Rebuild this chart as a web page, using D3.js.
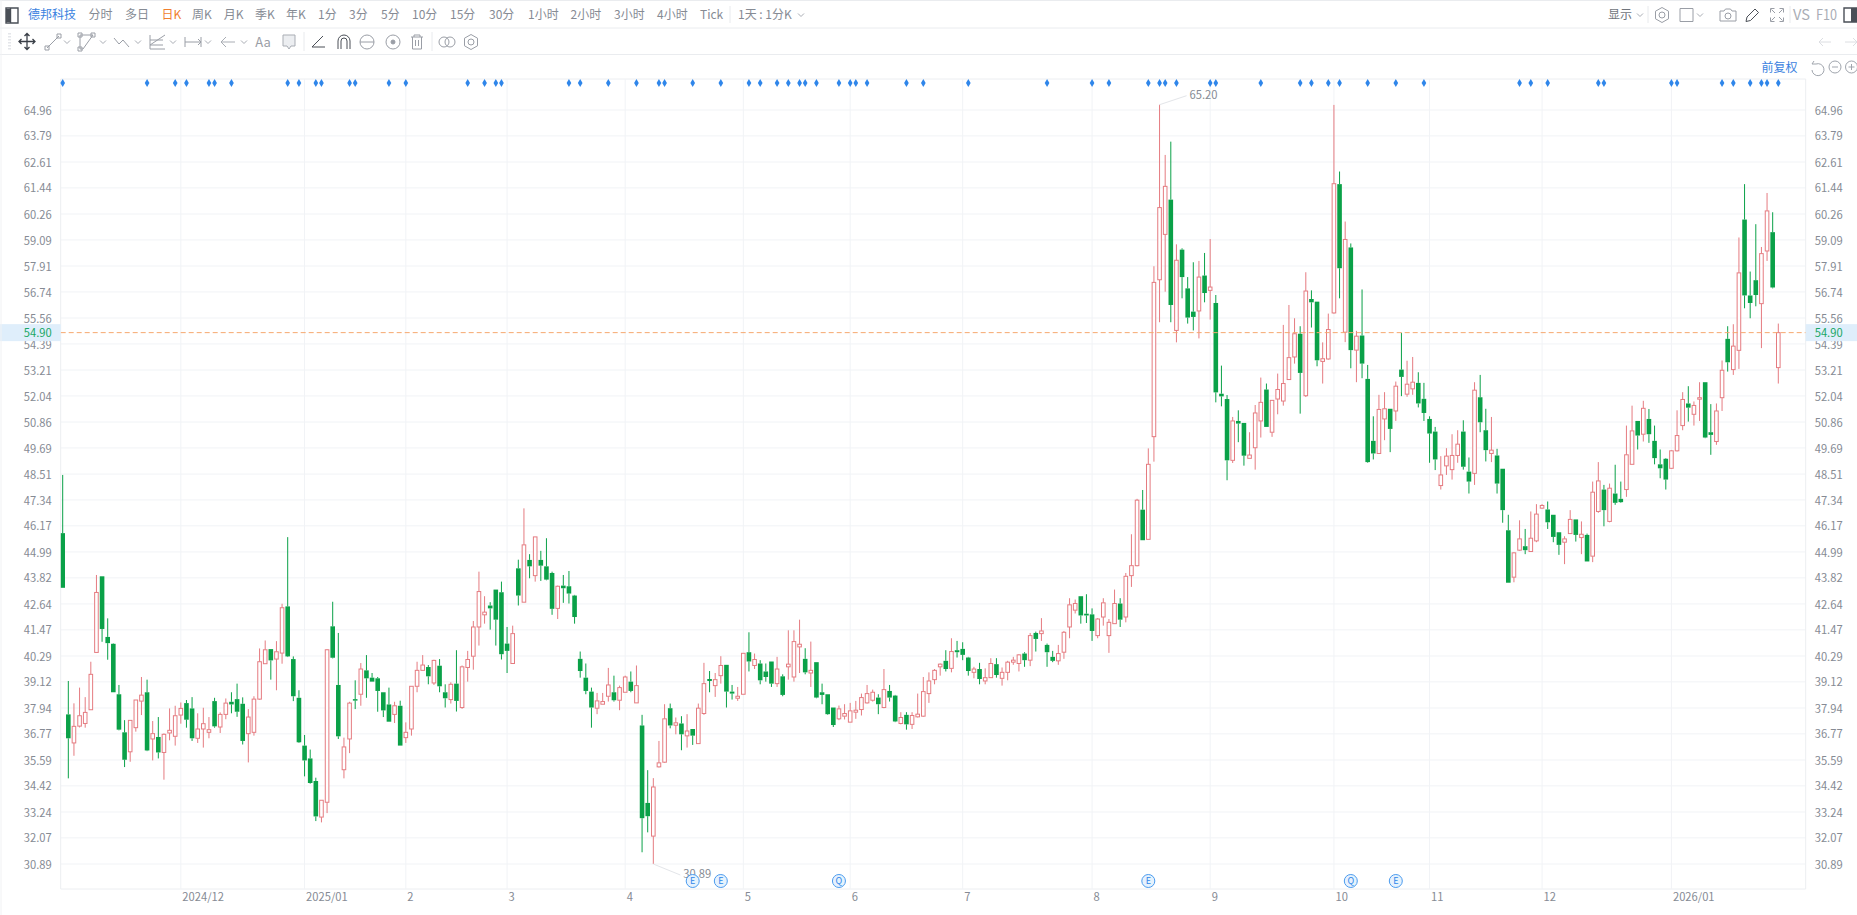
<!DOCTYPE html>
<html lang="zh">
<head>
<meta charset="utf-8">
<title>德邦科技 日K</title>
<script src="https://cdn.jsdelivr.net/npm/d3@7/dist/d3.min.js"></script>
<style>
html,body{margin:0;padding:0;background:#fff;overflow:hidden}
svg{display:block}
text{font-family:"Noto Sans CJK SC","Noto Sans",sans-serif}
</style>
</head>
<body>
<svg id="c" width="1857" height="915"></svg>
<script>
const highs=[48.47,39.16,38.15,38.86,38.43,40.03,43.95,43.89,41.99,40.86,
38.98,37.39,37.38,38.30,39.34,39.22,37.35,37.53,36.79,37.92,
38.04,38.19,38.30,38.43,37.70,37.95,37.53,38.40,37.74,38.37,
38.65,39.04,38.42,37.89,38.47,40.63,40.99,40.60,40.96,42.65,
45.66,40.27,38.74,36.72,36.06,34.79,33.77,40.60,42.74,41.33,
36.60,38.22,39.19,39.97,40.33,39.52,39.34,38.65,38.86,38.22,
38.27,37.29,38.92,40.03,40.33,39.88,40.12,40.15,39.01,39.10,
40.55,39.86,40.52,41.87,44.10,42.99,42.72,43.29,43.65,41.60,
41.66,44.64,46.96,44.89,45.67,45.04,45.61,44.10,43.47,43.95,
44.13,43.05,40.49,39.95,38.86,38.62,38.62,39.75,39.40,38.95,
39.40,39.59,39.86,37.63,35.13,34.77,36.45,38.11,38.14,37.51,
37.57,37.66,36.99,38.14,39.98,39.61,39.52,40.28,39.89,38.98,
38.89,40.41,41.36,40.40,40.10,39.95,40.04,40.25,39.46,41.45,
41.45,41.93,40.64,40.94,40.01,39.04,38.56,37.96,38.05,38.11,
38.17,38.26,38.59,38.98,38.77,38.56,39.70,38.98,38.53,37.75,
37.75,37.75,38.59,39.34,39.55,39.70,39.95,40.55,41.09,40.97,
40.91,40.25,39.80,39.98,39.73,40.19,40.19,39.77,40.07,40.25,
40.37,40.46,41.33,41.39,42.00,40.85,40.52,40.79,41.42,42.90,
42.84,42.99,43.08,42.44,42.00,42.90,41.96,43.29,42.90,44.04,
45.79,47.39,47.79,49.67,57.90,65.20,62.93,63.53,58.89,58.71,
57.41,58.08,58.14,58.50,59.13,56.60,53.41,52.08,51.09,51.39,
50.82,50.40,51.63,52.87,52.60,51.84,53.05,55.25,56.15,55.55,
55.19,57.63,56.81,56.30,54.46,55.76,65.19,62.18,59.92,58.93,
54.98,56.85,53.44,51.12,52.09,52.21,51.46,52.69,54.89,53.63,
53.80,53.11,52.63,51.12,50.64,49.32,49.68,50.31,50.49,50.94,
49.26,52.66,52.99,51.46,51.09,49.65,48.75,46.67,44.98,46.42,
46.03,46.82,47.15,47.15,47.27,46.67,45.88,45.70,46.88,46.46,
46.37,45.82,48.17,49.05,48.02,48.08,48.93,48.17,50.70,51.60,
50.91,51.82,51.45,50.70,49.62,49.23,49.59,51.39,52.21,52.48,
51.79,52.66,52.66,51.67,51.70,53.64,55.19,55.28,59.20,61.61,
57.66,59.80,58.77,61.21,60.34,55.31];
const lows=[43.37,34.76,35.78,37.06,37.05,37.86,40.45,40.93,40.12,38.65,
36.93,35.27,35.51,36.87,37.62,35.99,35.57,35.66,34.70,36.48,
36.24,37.23,37.05,36.45,36.36,36.15,36.57,37.05,36.81,37.43,
37.70,37.54,36.29,35.48,36.69,38.31,39.94,39.22,38.74,39.94,
40.24,38.25,36.36,34.85,34.52,32.83,32.77,33.19,40.18,36.54,
34.76,35.90,37.89,38.04,38.40,39.13,37.77,37.53,37.32,37.26,
36.24,36.36,36.69,38.65,39.64,39.01,38.98,38.65,37.96,38.14,
37.78,37.90,39.13,39.67,40.76,41.75,41.48,40.76,40.13,39.52,
39.95,42.57,42.72,43.80,43.65,43.68,43.71,42.15,41.96,42.69,
42.66,41.75,39.31,38.56,37.05,37.66,38.11,38.23,38.23,37.84,
38.65,38.65,38.17,31.42,32.32,30.89,35.25,35.46,37.02,36.75,
36.03,36.15,36.27,36.33,37.63,38.65,38.44,39.04,37.96,38.32,
38.26,38.56,39.59,39.70,39.01,39.13,38.89,38.89,38.47,39.22,
39.13,39.52,39.46,38.89,38.38,38.11,37.63,37.08,37.39,37.42,
37.30,37.45,37.60,38.14,38.23,37.66,37.93,38.23,37.30,37.20,
36.96,36.99,37.51,37.54,38.17,39.01,39.40,39.59,39.55,40.22,
40.10,39.40,39.28,39.01,39.01,39.31,39.31,38.95,39.19,39.89,
39.59,39.80,39.83,40.49,40.97,39.80,40.01,39.89,40.16,41.09,
42.21,41.75,41.78,40.97,41.09,41.66,40.43,41.75,41.60,41.81,
43.41,44.34,45.52,45.56,49.07,55.37,56.75,55.37,54.46,56.45,
55.31,55.00,54.64,56.27,55.49,51.75,51.57,48.23,49.01,49.95,
48.89,49.22,48.71,50.16,50.64,50.19,51.21,51.60,52.78,53.50,
51.24,51.99,55.13,53.38,52.60,53.68,55.76,56.45,54.47,53.29,
52.66,52.84,49.02,49.17,49.44,50.04,49.50,50.91,52.03,52.00,
52.09,51.52,50.91,49.02,48.69,47.81,48.47,48.26,49.02,48.71,
47.63,48.02,50.40,49.08,49.05,47.63,46.31,43.60,43.62,45.04,
44.89,45.01,45.43,46.94,46.03,45.43,44.86,44.44,45.82,45.46,
44.89,44.56,44.53,46.76,46.15,46.33,47.12,47.21,47.48,48.95,
49.62,49.98,49.92,48.95,48.32,47.81,48.74,49.53,50.49,50.88,
50.70,50.91,50.13,49.38,49.83,51.36,53.14,52.99,53.26,56.00,
55.55,56.09,54.20,58.14,56.90,52.60];
const opens=[45.84,37.65,36.36,37.12,37.24,37.86,40.45,43.89,41.15,40.84,
38.56,36.84,35.96,37.05,38.25,38.65,36.54,36.63,35.93,36.81,
36.66,37.62,38.16,37.92,36.57,36.99,36.84,38.25,37.08,37.65,
38.22,38.34,38.13,36.78,36.84,38.34,39.94,40.60,40.15,40.42,
42.53,40.15,38.40,36.24,35.66,34.64,33.01,33.68,41.63,38.98,
35.15,36.54,38.34,38.56,39.64,39.31,39.28,38.65,38.10,37.65,
38.04,36.60,36.99,38.92,39.64,39.79,39.07,39.85,38.65,38.32,
39.04,37.96,39.77,40.28,41.60,42.15,42.57,43.29,43.17,40.85,
39.95,44.25,42.72,44.63,43.92,44.63,44.34,44.04,42.44,43.47,
43.44,43.02,40.16,39.31,38.68,37.93,38.11,38.47,38.65,38.29,
38.65,39.13,38.17,37.15,33.65,32.15,35.28,35.49,37.93,37.16,
37.24,36.68,36.99,36.33,37.69,39.25,38.95,39.40,39.89,38.68,
38.38,38.56,40.46,39.86,39.95,39.59,40.04,39.04,39.37,39.80,
39.34,40.70,40.16,39.52,40.01,38.65,38.56,37.96,37.45,37.57,
37.30,37.75,37.87,38.17,38.29,38.41,37.96,38.71,38.50,37.24,
37.63,37.20,37.54,37.57,38.59,39.22,39.80,40.07,39.73,40.55,
40.61,40.22,39.55,39.70,39.16,39.31,39.92,39.28,39.55,40.01,
39.95,40.40,40.10,41.33,41.30,40.79,40.25,40.07,40.46,41.60,
42.36,42.99,42.20,42.17,41.21,42.05,41.21,41.75,42.66,42.05,
43.92,44.37,46.90,45.56,50.20,57.29,59.34,60.91,55.00,58.65,
56.90,55.85,55.88,57.48,56.81,56.24,52.14,51.90,49.13,50.91,
50.82,49.22,49.70,50.91,52.33,50.40,51.90,51.81,52.78,53.80,
54.85,52.05,56.42,56.30,53.60,53.71,55.79,61.61,54.92,58.75,
54.11,54.77,52.81,50.01,49.44,51.00,51.46,51.36,53.23,52.12,
52.36,52.63,51.91,51.00,50.43,47.99,48.88,48.71,49.35,50.43,
48.62,48.54,51.98,50.49,49.44,49.35,48.75,45.97,43.85,45.07,
45.25,45.01,45.49,46.97,46.91,46.67,45.88,45.43,45.82,46.46,
45.64,45.76,44.80,46.82,47.81,46.37,47.63,47.39,47.81,48.95,
50.91,50.31,51.00,50.01,48.95,49.20,48.77,49.56,50.70,51.70,
51.21,51.90,52.66,50.40,49.98,51.96,54.62,53.23,54.10,60.01,
56.58,57.27,56.21,58.59,59.44,53.32];
const closes=[43.37,36.57,37.11,37.59,37.74,39.46,43.16,41.51,40.87,38.65,
36.96,35.60,37.38,38.30,38.52,36.02,36.78,35.93,36.75,36.93,
37.59,37.92,37.41,36.57,36.99,37.23,36.96,37.11,37.65,38.16,
38.10,37.77,36.45,37.53,38.34,40.03,40.57,40.09,40.48,42.47,
40.27,38.47,36.39,35.57,34.55,33.04,33.77,40.57,40.21,36.66,
36.18,38.16,38.28,39.70,39.28,39.13,38.71,37.83,37.32,38.04,
36.24,36.84,38.92,39.64,39.88,39.37,40.09,38.92,38.38,39.01,
38.26,39.80,40.13,41.60,43.20,42.27,42.44,41.93,40.37,40.52,
41.30,43.02,45.31,44.34,45.67,44.37,43.74,42.42,43.44,43.35,
43.11,42.05,39.61,38.71,37.96,38.26,38.23,38.98,38.29,38.86,
39.34,38.71,38.95,32.96,33.05,34.37,35.46,37.45,37.15,37.27,
36.75,36.90,36.69,37.93,39.04,39.16,39.22,39.86,38.68,38.59,
38.47,40.41,40.04,40.13,39.19,39.34,39.04,39.70,38.53,39.92,
40.94,40.82,39.55,39.64,38.41,38.53,37.66,37.17,37.90,37.69,
37.81,37.84,38.41,38.59,38.65,38.11,38.77,38.41,37.33,37.51,
37.20,37.60,37.66,38.68,39.16,39.64,39.92,39.70,40.49,40.46,
40.34,39.61,39.70,39.25,39.31,39.95,39.43,39.55,40.01,40.10,
40.34,40.10,41.21,41.06,41.42,40.46,40.07,40.40,41.36,42.60,
42.66,42.12,42.12,41.42,41.96,42.69,41.81,42.66,41.93,43.89,
44.37,47.33,45.52,48.95,57.17,60.55,61.51,56.15,58.17,57.41,
55.58,55.61,57.41,56.69,56.96,52.20,52.02,49.13,50.91,50.79,
49.34,49.37,51.27,51.75,50.64,51.84,52.33,52.60,53.77,54.85,
53.08,56.78,56.27,53.65,53.72,55.04,61.63,57.81,59.11,54.11,
54.74,53.50,49.05,49.44,51.43,51.46,50.55,52.48,52.90,52.57,
52.66,51.70,51.27,50.34,49.17,48.47,49.32,49.35,49.86,48.84,
48.17,52.30,50.85,49.59,49.59,48.08,46.88,43.60,44.95,45.58,
45.07,45.61,46.70,47.09,46.33,45.67,45.31,45.58,46.46,45.76,
45.79,44.56,47.69,48.20,46.88,47.87,47.21,47.24,49.38,50.46,
50.25,51.48,50.31,49.23,48.77,48.26,49.56,50.25,51.88,51.51,
51.61,51.96,50.16,50.28,51.36,53.20,53.56,54.29,57.60,56.58,
56.24,56.60,58.47,60.40,56.94,54.90];

const priceTicks=[64.96,63.79,62.61,61.44,60.26,59.09,57.91,56.74,55.56,54.39,53.21,52.04,50.86,49.69,48.51,47.34,46.17,44.99,43.82,42.64,41.47,40.29,39.12,37.94,36.77,35.59,34.42,33.24,32.07,30.89];
const monthIndex=[21,43,61,79,100,121,140,160,183,204,226,243,263,286];
const monthLabels=["2024/12","2025/01","2","3","4","5","6","7","8","9","10","11","12","2026/01"];
const noticeIndex=[0,15,20,22,26,27,30,40,42,45,46,51,52,58,61,72,75,77,78,90,92,97,102,106,107,112,117,122,124,127,129,131,132,134,138,140,141,143,150,153,161,175,183,186,193,195,196,198,204,205,213,220,222,225,227,232,237,242,259,261,264,273,274,286,287,295,297,300,302,303,305];
const eventIndex=[112,117,138,193,229,237];
const eventLetters=["E","E","Q","E","Q","E"];
const lastPrice=54.90;
const stockName="德邦科技";
const periods=["分时","多日","日K","周K","月K","季K","年K","1分","3分","5分","10分","15分","30分","1小时","2小时","3小时","4小时","Tick"];

const svg=d3.select("#c");
const L=60.7,R=1805.7,T=79,B=889;
const x=d3.scaleLinear().domain([0,highs.length-1]).range([62.7,1778.3]);
const y=d3.scaleLinear().domain([64.96,30.89]).range([110,864]);
const GRID="#f1f3f6",LABEL="#868b94",UP="#e57b80",DOWN="#0aa148",BLUE="#2f86ea",ICON="#9a9ea6";
const AXIS_FONT=11.2;

/* ---------- grid ---------- */
const grid=svg.append("g");
grid.selectAll(".h").data(priceTicks).join("line")
  .attr("x1",L).attr("x2",R).attr("y1",d=>y(d)).attr("y2",d=>y(d)).attr("stroke",GRID);
grid.selectAll(".t").data([T,B]).join("line")
  .attr("x1",L).attr("x2",R).attr("y1",d=>d).attr("y2",d=>d).attr("stroke","#eceef1");
grid.selectAll(".v").data(monthIndex).join("line")
  .attr("x1",d=>x(d)).attr("x2",d=>x(d)).attr("y1",T).attr("y2",B).attr("stroke",GRID);
grid.selectAll(".e").data([L,R]).join("line")
  .attr("x1",d=>d).attr("x2",d=>d).attr("y1",T).attr("y2",B).attr("stroke","#eceef1");

/* ---------- candles ---------- */
const idx=d3.range(highs.length);
const bw=4.6;
const isUp=i=>closes[i]>=opens[i];
const clipId="plot";
svg.append("clipPath").attr("id",clipId).append("rect").attr("x",L).attr("y",T).attr("width",R-L).attr("height",B-T);
const plot=svg.append("g").attr("clip-path",`url(#${clipId})`);
plot.append("g").selectAll("line").data(idx).join("line")
  .attr("x1",x).attr("x2",x)
  .attr("y1",i=>y(highs[i])).attr("y2",i=>y(Math.max(opens[i],closes[i])))
  .attr("stroke",i=>isUp(i)?UP:DOWN).attr("stroke-width",1);
plot.append("g").selectAll("line").data(idx).join("line")
  .attr("x1",x).attr("x2",x)
  .attr("y1",i=>y(Math.min(opens[i],closes[i]))).attr("y2",i=>y(lows[i]))
  .attr("stroke",i=>isUp(i)?UP:DOWN).attr("stroke-width",1);
plot.append("g").selectAll("rect").data(idx).join("rect")
  .attr("x",i=>x(i)-bw/2+(isUp(i)?0.5:0))
  .attr("width",i=>isUp(i)?bw-1:bw)
  .attr("y",i=>y(Math.max(opens[i],closes[i])))
  .attr("height",i=>Math.max(1.5,y(Math.min(opens[i],closes[i]))-y(Math.max(opens[i],closes[i]))))
  .attr("fill",i=>isUp(i)?"#fff":DOWN)
  .attr("stroke",i=>isUp(i)?UP:DOWN)
  .attr("stroke-width",i=>isUp(i)?1:0);

/* ---------- last price line ---------- */
svg.append("line").attr("x1",L).attr("x2",R).attr("y1",y(lastPrice)).attr("y2",y(lastPrice))
  .attr("stroke","#f6a86f").attr("stroke-width",1).attr("stroke-dasharray","5,3");

/* ---------- axes ---------- */
function styleAxis(g){
  g.select(".domain").remove();
  g.selectAll("line").remove();
  g.selectAll("text").attr("fill",LABEL).attr("font-family",'"Noto Sans",sans-serif').attr("font-size",AXIS_FONT);
}
const fmt=d3.format(".2f");
svg.append("g").attr("transform",`translate(${L},0.5)`)
  .call(d3.axisLeft(y).tickValues(priceTicks).tickFormat(fmt).tickSize(0).tickPadding(9)).call(styleAxis);
svg.append("g").attr("transform",`translate(${R},0.5)`)
  .call(d3.axisRight(y).tickValues(priceTicks).tickFormat(fmt).tickSize(0).tickPadding(9)).call(styleAxis);
const xAxis=d3.axisBottom(x).tickValues(monthIndex).tickFormat((d,i)=>monthLabels[i]).tickSize(0).tickPadding(4);
svg.append("g").attr("transform",`translate(0,${B})`).call(xAxis).call(styleAxis)
  .selectAll("text").attr("text-anchor","start").attr("dx",1);

/* ---------- last price boxes ---------- */
[[0,L],[R,1857]].forEach(([a,b],k)=>{
  svg.append("rect").attr("x",a).attr("y",y(lastPrice)-8.5).attr("width",b-a).attr("height",17).attr("fill","#dfeefb");
  svg.append("text").attr("x",k?R+9:L-9).attr("text-anchor",k?"start":"end").attr("y",y(lastPrice)+4.5)
    .attr("fill","#19a765").attr("font-family",'"Noto Sans",sans-serif').attr("font-size",AXIS_FONT).text(fmt(lastPrice));
});

/* ---------- extreme labels ---------- */
const hiI=d3.maxIndex(highs), loI=d3.minIndex(lows);
function callout(i,price,dx,dy){
  const px=x(i),py=y(price);
  svg.append("line").attr("x1",px).attr("y1",py).attr("x2",px+dx).attr("y2",py+dy).attr("stroke","#e3e5e9");
  svg.append("text").attr("x",px+dx+3).attr("y",py+dy+3).attr("fill",LABEL)
    .attr("font-family",'"Noto Sans",sans-serif').attr("font-size",AXIS_FONT).text(fmt(price));
}
callout(hiI,highs[hiI],27,-9);
callout(loI,lows[loI],27,11);

/* ---------- notice diamonds ---------- */
svg.append("g").selectAll("path").data(noticeIndex).join("path")
  .attr("d",d3.symbol(d3.symbolDiamond,19))
  .attr("transform",d=>`translate(${x(d)},83)`).attr("fill",BLUE);

/* ---------- earnings markers ---------- */
const ev=svg.append("g").selectAll("g").data(eventIndex).join("g")
  .attr("transform",d=>`translate(${x(d)},881)`);
ev.append("circle").attr("r",6.5).attr("fill","#e6f2fd").attr("stroke","#4a9bef").attr("stroke-width",1);
ev.append("text").attr("text-anchor","middle").attr("y",3.2).attr("font-size",9).attr("fill","#2f86ea")
  .attr("font-family",'"Noto Sans",sans-serif').text((d,i)=>eventLetters[i]);

/* ---------- toolbars ---------- */
const ui=svg.append("g");
[[0.5],[28],[54.5]].forEach(([yy])=>ui.append("line").attr("x1",0).attr("x2",1857).attr("y1",yy).attr("y2",yy).attr("stroke","#eaecef"));
ui.append("line").attr("x1",1).attr("x2",1).attr("y1",0).attr("y2",915).attr("stroke","#f1f2f4");
const periodLeft=[88.4,125,161.6,192,223.7,255,286,318,349,381,412,450,489,528,570.5,614,657,700];
const tbText=(tx,ty,s,fill,size=12,anchor="start")=>ui.append("text").attr("x",tx).attr("y",ty).attr("fill",fill)
  .attr("font-size",size).attr("text-anchor",anchor).text(s);
tbText(28,19.3,stockName,"#3b82e0");
periods.forEach((p,i)=>tbText(periodLeft[i],19.3,p,p==="日K"?"#f07f2f":LABEL));
tbText(738,19.3,"1天 : 1分K",LABEL);
ui.append("line").attr("x1",730).attr("x2",730).attr("y1",6).attr("y2",23).attr("stroke","#e8eaed");
tbText(1608,19.3,"显示","#6f747c");
tbText(1761.5,72,"前复权","#3b82e0");
tbText(1793,20,"VS","#a9adb5",14).attr("textLength",17).attr("lengthAdjust","spacingAndGlyphs");
tbText(1816,20,"F10","#a9adb5",14).attr("textLength",21).attr("lengthAdjust","spacingAndGlyphs");

const icon=(d,tx,ty,stroke=ICON,fill="none",w=1)=>ui.append("path").attr("d",d)
  .attr("transform",`translate(${tx},${ty})`).attr("fill",fill).attr("stroke",stroke).attr("stroke-width",w);
const chev="M-3-1.5L0 1.5L3-1.5";
[[801,15],[1640,15],[1700,15],[67,42],[103,42],[138,42],[173,42],[208,42],[244,42]].forEach(([a,b])=>icon(chev,a,b,"#a9adb4"));

/* top row */
icon("M0 0H12V15H0ZM4.5 0V15",6,8,"#4a4f57","none",1.4);
icon("M0 1V14H4.5V1Z",6,8,"none","#4a4f57",0);
const hex="M0-7.5L6.5-3.8V3.8L0 7.5L-6.5 3.8V-3.8Z";
icon(hex,1662,15); icon("M3 0A3 3 0 1 1-3 0A3 3 0 1 1 3 0",1662,15);
icon("M0 0H13V13H0Z",1680,8.5);
icon("M0 2H4L5.5 0H10.5L12 2H16V12H0Z",1720,9); icon("M3 0A3 3 0 1 1-3 0A3 3 0 1 1 3 0",1728,16);
icon("M0 13L1 8.5L9 0.5L12.5 4L4.5 12Z",1746,8.5,"#4a4f57");
icon("M0 4V0H4M9 0H13V4M13 9V13H9M4 13H0V9M1 1L4.5 4.5M12 1L8.5 4.5M12 12L8.5 8.5M1 12L4.5 8.5",1770.5,8.5);
icon("M0 0H13V14H0Z",1844,8,"#4a4f57","none",1.4); icon("M7 0H13V14H7Z",1844,8,"none","#4a4f57",0);
[[1648],[1790]].forEach(([a])=>ui.append("line").attr("x1",a).attr("x2",a).attr("y1",6).attr("y2",23).attr("stroke","#e8eaed"));

/* second row */
ui.selectAll(".dots").data(d3.range(6)).join("rect").attr("x",8).attr("y",d=>33+d*3).attr("width",3).attr("height",1.5).attr("fill","#e4e6ea");
icon("M0-8V8M-8 0H8M-2.5-5.5L0-8L2.5-5.5M-2.5 5.5L0 8L2.5 5.5M-5.5-2.5L-8 0L-5.5 2.5M5.5-2.5L8 0L5.5 2.5",27,41.5,"#3a3f47","none",1.3);
icon("M-6 6L6-6M-8 4H-4V8H-8ZM4-8H8V-4H4Z",53,42);
icon("M-6-7H7L-3 7H-6ZM-8-9H-4V-5H-8ZM5-9H9V-5H5ZM-8 5H-4V9H-8Z",86,42);
icon("M-8-4L-3 2L1-2L7 5",122,42);
icon("M-7-7V7H8M-7 3L8-7M-7-2H6M-7 3H6",157,42);
icon("M-8-5V5M8-5V5M-8 0H8M5-3L8 0L5 3",193,42);
icon("M7 0H-7M-2-5L-7 0L-2 5",228,42,"#a9adb4");
tbText(263,46.5,"Aa",ICON,13,"middle");
icon("M-6-7H6V4H2L0 7L-2 4H-6Z",289,42,"#a9adb4","#eceef1");
ui.selectAll(".sep").data([304,432]).join("line").attr("x1",d=>d).attr("x2",d=>d).attr("y1",32).attr("y2",51).attr("stroke","#e8eaed");
icon("M5-6L-6 5H7",318,42,"#4a4f57");
icon("M-6 7V-1A6 6 0 0 1 6-1V7M-3 7V-1A3 3 0 0 1 3-1V7",344,42,"#4a4f57");
icon("M7 0A7 7 0 1 1-7 0A7 7 0 1 1 7 0M-7 0H7",367,42);
icon("M7 0A7 7 0 1 1-7 0A7 7 0 1 1 7 0",393,42); icon("M2 0A2 2 0 1 1-2 0A2 2 0 1 1 2 0",393,42,ICON,ICON);
icon("M-6-5H6M-3-5V-7H3V-5M-4.5-5V7H4.5V-5M-1.5-2V4M1.5-2V4",417,42);
icon("M2 0A5 5 0 1 1-8 0A5 5 0 1 1 2 0M8 0A5 5 0 1 1-2 0A5 5 0 1 1 8 0",447,42);
icon(hex,471,42); icon("M3 0A3 3 0 1 1-3 0A3 3 0 1 1 3 0",471,42);
icon("M6 0H-6M-2-4L-6 0L-2 4",1825,42,"#dcdee2"); icon("M-6 0H6M2-4L6 0L2 4",1851,42,"#dcdee2");

/* chart corner */
icon("M-5-3H-1A6 6 0 1 1-5 3M-5-3L-3-6",1817,67,"#a0a5ad");
icon("M6 0A6 6 0 1 1-6 0A6 6 0 1 1 6 0M-3 0H3",1835,67,"#a0a5ad");
icon("M6 0A6 6 0 1 1-6 0A6 6 0 1 1 6 0M-3 0H3M0-3V3",1851.5,67,"#a0a5ad");
</script>
</body>
</html>
